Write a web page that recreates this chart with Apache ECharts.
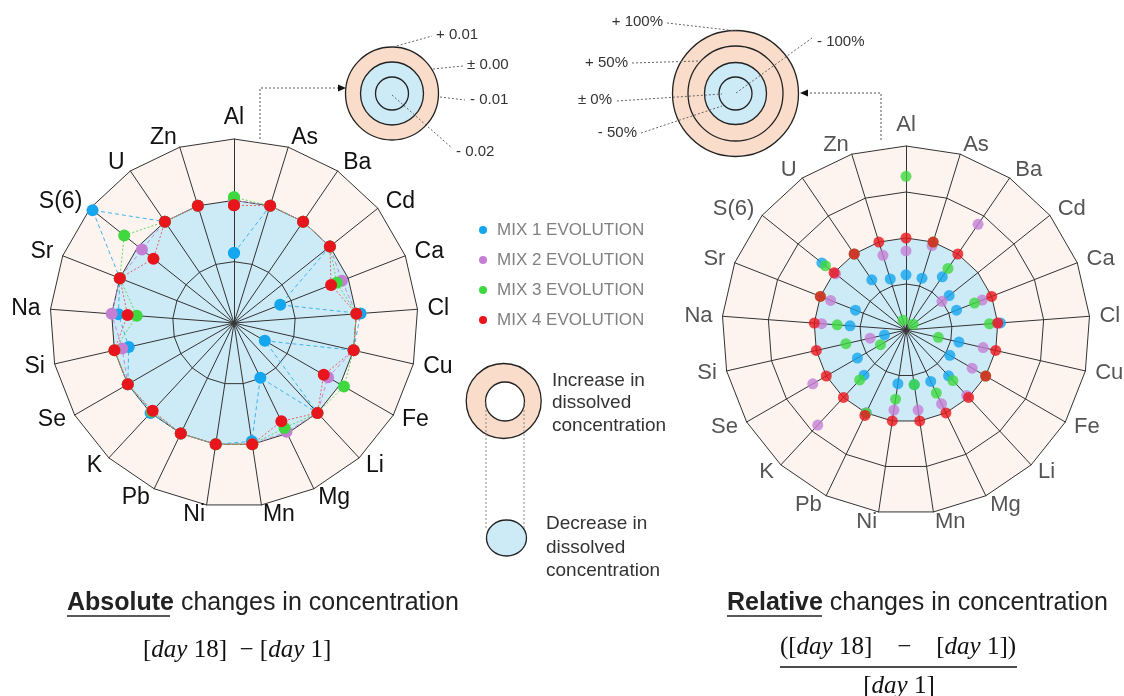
<!DOCTYPE html>
<html><head><meta charset="utf-8">
<script src="https://cdn.jsdelivr.net/npm/echarts@6/dist/echarts.min.js"></script>
<style>html,body{margin:0;padding:0;background:#fff}#c{width:1124px;height:696px}</style>
</head><body><div id="c"></div>
<script>
// ---- data ----
const elements = ['Al','As','Ba','Cd','Ca','Cl','Cu','Fe','Li','Mg','Mn','Ni','Pb','K','Se','Si','Na','Sr','S(6)','U','Zn'];
const mixNames = ['MIX 1 EVOLUTION','MIX 2 EVOLUTION','MIX 3 EVOLUTION','MIX 4 EVOLUTION'];
// Absolute changes  [day 18] - [day 1]
const absMix1 = [-0.0086, 0, 0, 0, -0.0119, 0.0007, 0, -0.0142, 0, -0.0101, -0.0005, 0, 0, 0, 0, -0.0024, -0.0011, 0, 0.0095, 0, 0];
const absMix2 = [0, 0, 0, 0, -0.0011, 0, 0, -0.0023, 0, -0.0003, 0, 0, 0, -0.0003, 0, -0.0013, 0, 0, -0.0008, 0, 0];
const absMix3 = [0.0005, 0, 0, 0, -0.0020, 0, 0, 0.0007, 0, -0.0010, 0, 0, 0, -0.0003, 0, 0, -0.0041, 0, 0.0029, 0, 0];
const absMix4 = [-0.0008, 0, 0, 0, -0.0030, 0, 0, -0.0031, 0, -0.0022, 0, 0, 0, -0.0005, 0, 0, -0.0026, 0, -0.0032, 0, 0];
// Relative changes (%)  ([day 18] - [day 1]) / [day 1]
const relMix1 = [-40, -41, -30, -40, -41, 3, -41, -45, -32, -38, -40, -41, 0, -33, -39, -76, -39, -41, 17, -34, -42];
const relMix2 = [-14, -4, 39, -50, -11, 0, -14, -17, -3, -11, -12, -12, 0, 41, 17, -60, -8, -12, -2, 0, -15];
const relMix3 = [67, 0, -19, -90, -20, -9, -64, 0, -25, -24, -40, -24, 0, -26, -68, -33, -25, 0, 12, 0, -89];
const relMix4 = [0, 0, 0, null, 0, 0, 0, 0, 0, 0, 0, 0, 3, 0, 0, 0, 0, 0, 0, 0, 0];
// scale ticks (shown in the key circles)
const absTicks = [-0.02, -0.01, 0, 0.01];
const absTickLabels = ['- 0.02', '- 0.01', '± 0.00', '+ 0.01'];
const relTicks = [-100, -50, 0, 50, 100];
const relTickLabels = ['- 100%', '- 50%', '± 0%', '+ 50%', '+ 100%'];

// ---- styles ----
const dotColors = ['#14a6ee', '#c47fd5', '#3fd83f', '#e8151c'];
const lineColors = ['#3fb3ee', '#c68ad8', '#5fd65f', '#e26262'];
const lineDash = [[4, 3], [4, 3], [2, 2], [2, 2]];
const BLUE = '#cdeaf7', PEACH = '#fdf4ef', KEYPEACH = '#f9dcc9';
const F = 'Liberation Sans, Arial, sans-serif';

function loop(vals) {
  const d = vals.map((v, i) => [v, elements[i]]);
  d.push([vals[0], elements[0]]);
  return d;
}
function pts(vals) {
  return vals.map((v, i) => v === null ? null : [v, elements[i]]).filter(p => p);
}

const absData = [absMix1, absMix2, absMix3, absMix4];
const relData = [relMix1, relMix2, relMix3, relMix4];

const series = [];
absData.forEach((vals, k) => series.push({
  name: mixNames[k], type: 'line', coordinateSystem: 'polar', polarIndex: 0,
  data: loop(vals), symbol: 'circle', symbolSize: 12, showAllSymbol: true,
  itemStyle: { color: dotColors[k] },
  lineStyle: { color: lineColors[k], width: 1, type: lineDash[k] },
  z: 3 + k, silent: true
}));
relData.forEach((vals, k) => series.push({
  name: mixNames[k], type: 'scatter', coordinateSystem: 'polar', polarIndex: 1,
  data: pts(vals), symbol: 'circle', symbolSize: 11,
  itemStyle: { color: dotColors[k] }, z: 3 + k, silent: true
}));

// radar grids (drawn clockwise: indicators listed counter-clockwise from the top)
const ccw = [elements[0]].concat(elements.slice(1).reverse());
function radarGrid(center, ticks, colors, nameColor, nameSize) {
  return {
    center: center, radius: 184, startAngle: 90, shape: 'polygon',
    splitNumber: ticks.length - 1,
    indicator: ccw.map(n => ({ name: n, min: ticks[0], max: ticks[ticks.length - 1] })),
    nameGap: 10,
    axisName: { color: nameColor, fontSize: nameSize, fontFamily: F },
    axisLine: { lineStyle: { color: '#333', width: 1 } },
    splitLine: { lineStyle: { color: '#333', width: 1 } },
    splitArea: { show: true, areaStyle: { color: colors } },
    silent: true
  };
}
function hiddenAngle(idx) {
  return { polarIndex: idx, type: 'category', data: elements, boundaryGap: false, startAngle: 90, clockwise: true, show: false };
}
function hiddenRadius(idx, ticks) {
  return { polarIndex: idx, type: 'value', min: ticks[0], max: ticks[ticks.length - 1], interval: ticks[1] - ticks[0], show: false };
}

const dot = { stroke: '#666', lineWidth: 1, lineDash: [2, 2], fill: null };
const g = [];
function circ(cx, cy, r, fill) { g.push({ type: 'circle', shape: { cx, cy, r }, style: { fill: fill || 'rgba(0,0,0,0)', stroke: '#222', lineWidth: 1.3 }, z: 10 }); }
function ln(x1, y1, x2, y2, st) { g.push({ type: 'line', shape: { x1, y1, x2, y2 }, style: Object.assign({}, dot, st || {}), z: 11 }); }
function txt(x, y, text, size, align, color) {
  g.push({ type: 'text', x, y, style: { text, font: size + 'px ' + F, fill: color || '#333', textAlign: align || 'left', textVerticalAlign: 'middle' }, z: 12 });
}

// key for absolute chart
circ(392, 93.5, 46.5, KEYPEACH); circ(392, 93.5, 31.5, BLUE); circ(392, 93.5, 16.5);
ln(393, 47, 432, 36); ln(433, 69, 463, 66); ln(440, 97, 465, 100); ln(392, 95, 452, 148);
txt(436, 35, absTickLabels[3], 15); txt(467, 65, absTickLabels[2], 15);
txt(470, 100, absTickLabels[1], 15); txt(456, 152, absTickLabels[0], 15);
g.push({ type: 'polyline', shape: { points: [[260, 139], [260, 88], [338, 88]] }, style: { stroke: '#555', lineWidth: 1, lineDash: [2, 2], fill: null }, z: 11 });
g.push({ type: 'polygon', shape: { points: [[338, 84.5], [346, 88], [338, 91.5]] }, style: { fill: '#111' }, z: 11 });

// key for relative chart
circ(735.5, 93.5, 63, KEYPEACH); circ(735.5, 93.5, 47.5); circ(735.5, 93.5, 31, BLUE); circ(735.5, 93.5, 16.5);
ln(667, 23, 737, 31); ln(632, 63, 700, 61); ln(617, 101, 722, 94); ln(641, 133, 722, 106); ln(736, 93, 812, 38);
txt(663, 22, relTickLabels[4], 15, 'right'); txt(628, 63, relTickLabels[3], 15, 'right');
txt(612, 100, relTickLabels[2], 15, 'right'); txt(637, 133, relTickLabels[1], 15, 'right');
txt(817, 42, relTickLabels[0], 15);
g.push({ type: 'polyline', shape: { points: [[881, 140], [881, 93], [808, 93]] }, style: { stroke: '#555', lineWidth: 1, lineDash: [2, 2], fill: null }, z: 11 });
g.push({ type: 'polygon', shape: { points: [[808, 89.5], [800, 93], [808, 96.5]] }, style: { fill: '#111' }, z: 11 });

// increase / decrease explanation
circ(503.7, 401, 37.5, KEYPEACH); circ(505, 401.5, 19.5, '#fff');
ln(486, 402, 486, 530, { stroke: '#888' }); ln(524, 402, 524, 530, { stroke: '#888' });
g.push({ type: 'ellipse', shape: { cx: 506.5, cy: 538, rx: 20, ry: 18 }, style: { fill: BLUE, stroke: '#222', lineWidth: 1.3 }, z: 10 });
txt(552, 381, 'Increase in', 19); txt(552, 403, 'dissolved', 19); txt(552, 426, 'concentration', 19);
txt(546, 524, 'Decrease in', 19); txt(546, 548, 'dissolved', 19); txt(546, 571, 'concentration', 19);

// captions
const brich = { b: { fontWeight: 'bold', fontSize: 25, fontFamily: F, fill: '#222' } };
g.push({ type: 'text', x: 67, y: 603, style: { text: '{b|Absolute} changes in concentration', font: '25px ' + F, fill: '#222', textVerticalAlign: 'middle', rich: brich }, z: 12 });
ln(67, 616, 170, 616, { stroke: '#222', lineDash: null, lineWidth: 1.5 });
g.push({ type: 'text', x: 727, y: 603, style: { text: '{b|Relative} changes in concentration', font: '25px ' + F, fill: '#222', textVerticalAlign: 'middle', rich: brich }, z: 12 });
ln(727, 616, 822, 616, { stroke: '#222', lineDash: null, lineWidth: 1.5 });
const SF = 'Liberation Serif, DejaVu Serif, serif';
const mrich = { i: { fontStyle: 'italic', fontSize: 25, fontFamily: SF, fill: '#111' } };
g.push({ type: 'text', x: 143, y: 650, style: { text: '[{i|day} 18]  − [{i|day} 1]', font: '25px ' + SF, fill: '#111', textVerticalAlign: 'middle', rich: mrich }, z: 12 });
g.push({ type: 'text', x: 898, y: 647, style: { text: '([{i|day} 18]    −    [{i|day} 1])', font: '25px ' + SF, fill: '#111', textAlign: 'center', textVerticalAlign: 'middle', rich: mrich }, z: 12 });
ln(780, 667, 1017, 667, { stroke: '#111', lineDash: null, lineWidth: 1.5 });
g.push({ type: 'text', x: 899, y: 686, style: { text: '[{i|day} 1]', font: '25px ' + SF, fill: '#111', textAlign: 'center', textVerticalAlign: 'middle', rich: mrich }, z: 12 });

const chart = echarts.init(document.getElementById('c'));
chart.setOption({
  animation: false,
  backgroundColor: '#fff',
  legend: {
    data: mixNames, orient: 'vertical', left: 474, top: 216, icon: 'circle',
    itemWidth: 18, itemHeight: 8, itemGap: 12,
    textStyle: { color: '#808080', fontSize: 17, fontFamily: F, lineHeight: 18 },
    selectedMode: false
  },
  radar: [
    radarGrid([234, 323], absTicks, [BLUE, BLUE, PEACH], '#111', 23),
    radarGrid([906, 330], relTicks, [BLUE, BLUE, PEACH, PEACH], '#555', 22)
  ],
  polar: [
    { center: [234, 323], radius: 184 },
    { center: [906, 330], radius: 184 }
  ],
  angleAxis: [hiddenAngle(0), hiddenAngle(1)],
  radiusAxis: [hiddenRadius(0, absTicks), hiddenRadius(1, relTicks)],
  series: series,
  graphic: g
});
</script></body></html>
